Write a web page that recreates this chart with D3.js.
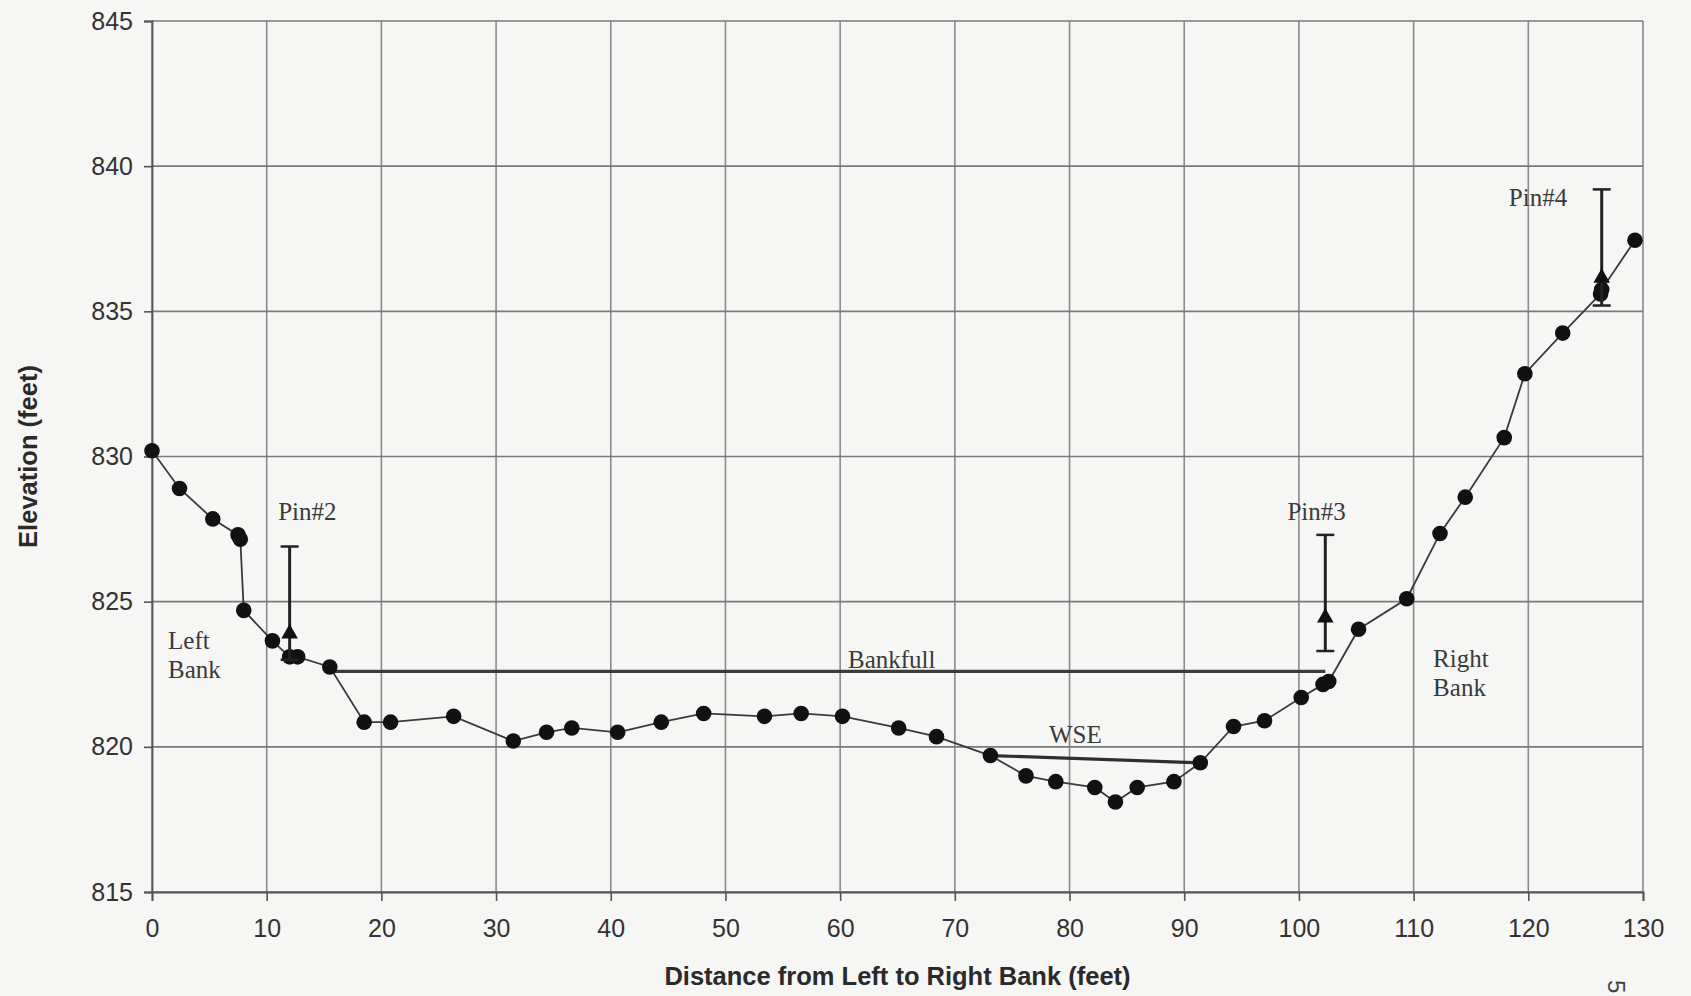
<!DOCTYPE html>
<html>
<head>
<meta charset="utf-8">
<script src="https://cdn.jsdelivr.net/npm/d3@7"></script>
<style>
  body { margin: 0; background: #f6f6f4; }
  svg { display: block; }
  .tick text { font-family: "Liberation Sans", Arial, sans-serif; font-size: 25px; fill: #333; }
  .note { font-family: "Liberation Serif", "Times New Roman", serif; font-size: 25px; fill: #3a3a3a; }
  .title { font-family: "Liberation Sans", Arial, sans-serif; font-size: 25.5px; font-weight: bold; fill: #2a2a2a; }
</style>
</head>
<body>
<svg width="1691" height="996"></svg>
<script>
// surveyed cross-section (distance ft, elevation ft)
var distance = [0, 2.4, 5.3, 7.5, 7.7, 8.0, 10.5, 12.0, 12.7, 15.5, 18.5, 20.8, 26.3, 31.5, 34.4, 36.6,
    40.6, 44.4, 48.1, 53.4, 56.6, 60.2, 65.1, 68.4, 73.1, 76.2, 78.8, 82.2, 84.0, 85.9, 89.1, 91.4,
    94.3, 97.0, 100.2, 102.1, 102.6, 105.2, 109.4, 112.3, 114.5, 117.9, 119.7, 123.0, 126.3, 126.4, 129.3];
var elevation = [830.2, 828.9, 827.85, 827.3, 827.15, 824.7, 823.65, 823.1, 823.1, 822.75, 820.85, 820.85,
    821.05, 820.2, 820.5, 820.65, 820.5, 820.85, 821.15, 821.05, 821.15, 821.05, 820.65, 820.35, 819.7,
    819.0, 818.8, 818.6, 818.1, 818.6, 818.8, 819.45, 820.7, 820.9, 821.7, 822.15, 822.25, 824.05, 825.1,
    827.35, 828.6, 830.65, 832.85, 834.25, 835.6, 835.75, 837.45];

// survey pins (marker elevation with the range bar)
var pinNames = ["Pin#2", "Pin#3", "Pin#4"];
var pinX = [12.0, 102.3, 126.4];
var pinY = [823.9, 824.45, 836.15];
var pinLow = [823.0, 823.3, 835.2];
var pinHigh = [826.9, 827.3, 839.2];

var bankfull = [[15.5, 822.6], [102.3, 822.6]];
var wse = [[73.1, 819.7], [91.4, 819.45]];

var xTicks = [0, 10, 20, 30, 40, 50, 60, 70, 80, 90, 100, 110, 120, 130];
var yTicks = [815, 820, 825, 830, 835, 840, 845];

var svg = d3.select("svg");
var margin = { top: 21, right: 48, bottom: 104, left: 152 };
var width = +svg.attr("width") - margin.left - margin.right;
var height = +svg.attr("height") - margin.top - margin.bottom;

var x = d3.scaleLinear().domain([0, 130]).range([0, width]);
var y = d3.scaleLinear().domain([815, 845]).range([height, 0]);

var g = svg.append("g")
    .attr("transform", "translate(" + margin.left + "," + margin.top + ")");

// gridlines
g.append("g").selectAll("line")
    .data(xTicks).enter().append("line")
    .attr("x1", function (d) { return x(d); }).attr("x2", function (d) { return x(d); })
    .attr("y1", 0).attr("y2", height)
    .attr("stroke", "#8a8a8a").attr("stroke-width", 1.6);
g.append("g").selectAll("line")
    .data(yTicks).enter().append("line")
    .attr("x1", 0).attr("x2", width)
    .attr("y1", function (d) { return y(d); }).attr("y2", function (d) { return y(d); })
    .attr("stroke", "#7a7a7a").attr("stroke-width", 1.6);

// axes
var xAxis = g.append("g")
    .attr("transform", "translate(0," + height + ")")
    .call(d3.axisBottom(x).tickValues(xTicks).tickSize(9).tickPadding(18));
var yAxis = g.append("g")
    .call(d3.axisLeft(y).tickValues(yTicks).tickSize(8).tickPadding(11));
[xAxis, yAxis].forEach(function (a) {
    a.select(".domain").attr("stroke", "#555").attr("stroke-width", 1.8);
    a.selectAll(".tick line").attr("stroke", "#555").attr("stroke-width", 1.6);
});

// bankfull and water surface lines
var line = d3.line()
    .x(function (d) { return x(d[0]); })
    .y(function (d) { return y(d[1]); });
g.append("path").datum(bankfull).attr("d", line)
    .attr("fill", "none").attr("stroke", "#3c3c3c").attr("stroke-width", 3.2);
g.append("path").datum(wse).attr("d", line)
    .attr("fill", "none").attr("stroke", "#2e2e2e").attr("stroke-width", 3.2);

// ground profile
var profile = distance.map(function (d, i) { return [d, elevation[i]]; });
g.append("path").datum(profile).attr("d", line)
    .attr("fill", "none").attr("stroke", "#3a3a3a").attr("stroke-width", 1.8);
g.selectAll(".pt")
    .data(profile).enter().append("circle")
    .attr("class", "pt")
    .attr("cx", function (d) { return x(d[0]); })
    .attr("cy", function (d) { return y(d[1]); })
    .attr("r", 7.8)
    .attr("fill", "#111");

// pins: range bar with caps and a triangle marker
var pins = g.selectAll(".pin")
    .data(pinX).enter().append("g").attr("class", "pin");
pins.append("line")
    .attr("x1", function (d) { return x(d); }).attr("x2", function (d) { return x(d); })
    .attr("y1", function (d, i) { return y(pinLow[i]); })
    .attr("y2", function (d, i) { return y(pinHigh[i]); })
    .attr("stroke", "#222").attr("stroke-width", 3);
pins.append("line")
    .attr("x1", function (d) { return x(d) - 9; }).attr("x2", function (d) { return x(d) + 9; })
    .attr("y1", function (d, i) { return y(pinHigh[i]); })
    .attr("y2", function (d, i) { return y(pinHigh[i]); })
    .attr("stroke", "#222").attr("stroke-width", 2.5);
pins.append("line")
    .attr("x1", function (d) { return x(d) - 9; }).attr("x2", function (d) { return x(d) + 9; })
    .attr("y1", function (d, i) { return y(pinLow[i]); })
    .attr("y2", function (d, i) { return y(pinLow[i]); })
    .attr("stroke", "#222").attr("stroke-width", 2.5);
pins.append("path")
    .attr("d", d3.symbol().type(d3.symbolTriangle).size(120))
    .attr("transform", function (d, i) { return "translate(" + x(d) + "," + y(pinY[i]) + ")"; })
    .attr("fill", "#111");

// annotations
var notes = [
    { t: pinNames[0], x: 11.0, y: 827.8, a: "start" },
    { t: pinNames[1], x: 99.0, y: 827.8, a: "start" },
    { t: pinNames[2], x: 118.3, y: 838.62, a: "start" },
    { t: "Bankfull", x: 64.5, y: 822.73, a: "middle" },
    { t: "WSE", x: 80.5, y: 820.12, a: "middle" },
    { t: "Left", x: 1.4, y: 823.38, a: "start" },
    { t: "Bank", x: 1.4, y: 822.38, a: "start" },
    { t: "Right", x: 111.7, y: 822.75, a: "start" },
    { t: "Bank", x: 111.7, y: 821.75, a: "start" }
];
g.selectAll(".note")
    .data(notes).enter().append("text")
    .attr("class", "note")
    .attr("x", function (d) { return x(d.x); })
    .attr("y", function (d) { return y(d.y); })
    .attr("text-anchor", function (d) { return d.a; })
    .text(function (d) { return d.t; });

// axis titles
svg.append("text")
    .attr("class", "title")
    .attr("text-anchor", "middle")
    .attr("x", margin.left + width / 2)
    .attr("y", 985)
    .text("Distance from Left to Right Bank (feet)");
svg.append("text")
    .attr("class", "title")
    .attr("text-anchor", "middle")
    .attr("transform", "translate(37," + (margin.top + height / 2) + ") rotate(-90)")
    .text("Elevation (feet)");

// page number peeking in at the corner
svg.append("text")
    .attr("transform", "translate(1608,980) rotate(90)")
    .attr("font-family", "Liberation Sans, Arial, sans-serif")
    .attr("font-size", 24)
    .attr("fill", "#444")
    .text("5");
</script>
</body>
</html>
